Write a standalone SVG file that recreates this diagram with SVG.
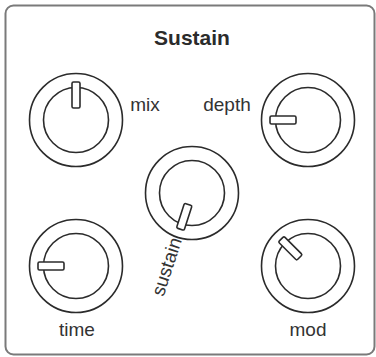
<svg xmlns="http://www.w3.org/2000/svg" width="376" height="357" viewBox="0 0 376 357">
<style>
.ring{fill:none;stroke:#2b2b2b;stroke-width:1.6}
.ptr{fill:#fff;stroke:#2b2b2b;stroke-width:1.6}
.lbl{font-family:"Liberation Sans",Arial,sans-serif;font-size:19px;fill:#333;text-anchor:middle}
.title{font-family:"Liberation Sans",Arial,sans-serif;font-size:21px;font-weight:bold;fill:#2b2b2b;text-anchor:middle}
</style>
<defs>
<g id="knob">
<circle class="ring" r="46.5"/>
<circle class="ring" r="32.5"/>
</g>
</defs>
<rect x="5.5" y="5.5" width="369" height="349" rx="8" fill="#fff" stroke="#7a7a7a" stroke-width="2"/>
<text class="title" x="192" y="45">Sustain</text>
<g id="mix" transform="translate(76,120)">
<use href="#knob"/>
<rect class="ptr" x="-4" y="-38" width="8" height="26" rx="1.5"/>
<text class="lbl" x="69" y="-9">mix</text>
</g>
<g id="depth" transform="translate(308,120)">
<use href="#knob"/>
<rect class="ptr" x="-4" y="-38" width="8" height="26" rx="1.5" transform="rotate(-90)"/>
<text class="lbl" x="-81" y="-9">depth</text>
</g>
<g id="sustain" transform="translate(192,193)">
<use href="#knob"/>
<rect class="ptr" x="-4" y="-38" width="8" height="26" rx="1.5" transform="rotate(198)"/>
<text class="lbl" style="text-anchor:end" transform="translate(-10,47) rotate(-72)">sustain</text>
</g>
<g id="time" transform="translate(76,266)">
<use href="#knob"/>
<rect class="ptr" x="-4" y="-38" width="8" height="26" rx="1.5" transform="rotate(-90)"/>
<text class="lbl" x="1" y="70">time</text>
</g>
<g id="mod" transform="translate(308,266)">
<use href="#knob"/>
<rect class="ptr" x="-4" y="-38" width="8" height="26" rx="1.5" transform="rotate(-45)"/>
<text class="lbl" x="0" y="70">mod</text>
</g>
<g id="connectors"/>
</svg>
